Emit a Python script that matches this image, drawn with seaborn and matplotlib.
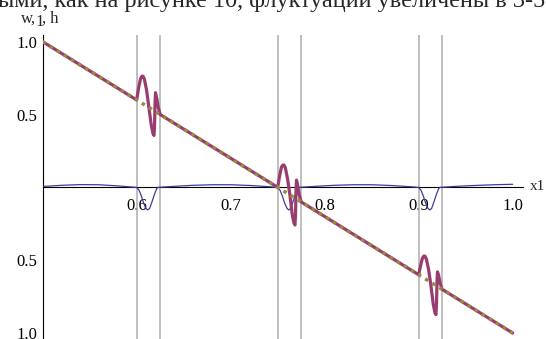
import numpy as np
import pandas as pd
import matplotlib
matplotlib.use("Agg")
import matplotlib.pyplot as plt
import seaborn as sns
from matplotlib.ticker import FixedLocator

# ---------------- data ----------------
# straight reference line (dotted olive)
line_x = [0.5, 1.0]
line_y = [1.0, -1.0]

# magenta curve: straight line with three fluctuation bursts
mag_x = [0.5,
         0.6, 0.602, 0.604, 0.6055, 0.60675, 0.60825, 0.6105, 0.613, 0.6155,
         0.61725, 0.618375, 0.619, 0.6195, 0.62, 0.62125, 0.623, 0.625,
         0.75, 0.752, 0.754, 0.7555, 0.75675, 0.75825, 0.7605, 0.763, 0.7655,
         0.76725, 0.768375, 0.769, 0.7695, 0.77, 0.77125, 0.773, 0.775,
         0.9, 0.902, 0.904, 0.9055, 0.90675, 0.90825, 0.9105, 0.913, 0.9155,
         0.91725, 0.918375, 0.919, 0.9195, 0.92, 0.92125, 0.923, 0.925,
         1.0]
mag_y = [1.0,
         0.600, 0.682, 0.744, 0.763, 0.763, 0.742, 0.668, 0.548, 0.428,
         0.371, 0.3565, 0.424, 0.572, 0.650, 0.615, 0.548, 0.500,
         0.000, 0.077, 0.139, 0.153, 0.153, 0.132, 0.058, -0.052, -0.187,
         -0.244, -0.2585, -0.186, -0.028, 0.050, 0.015, -0.052, -0.100,
         -0.600, -0.538, -0.486, -0.472, -0.472, -0.493, -0.562, -0.672, -0.802,
         -0.859, -0.8735, -0.796, -0.648, -0.580, -0.605, -0.662, -0.700,
         -1.0]

# thin blue curve near zero
blue_x = [0.5, 0.52, 0.54, 0.56, 0.58, 0.6,
          0.6025, 0.605, 0.6075, 0.61, 0.61175, 0.61375, 0.61625, 0.61875, 0.62125, 0.6225,
          0.64, 0.66, 0.68, 0.70, 0.72, 0.74, 0.75,
          0.7525, 0.755, 0.7575, 0.76, 0.76175, 0.76375, 0.76625, 0.76875, 0.77125, 0.7725,
          0.79, 0.81, 0.83, 0.85, 0.87, 0.89, 0.9,
          0.9025, 0.905, 0.9075, 0.91, 0.91175, 0.91375, 0.91625, 0.91875, 0.92125, 0.9225,
          0.94, 0.96, 0.98, 1.0]
blue_y = [0.006, 0.014, 0.019, 0.018, 0.010, 0.0,
          -0.02, -0.06, -0.11, -0.145, -0.155, -0.145, -0.10, -0.05, -0.01, 0.0,
          0.007, 0.014, 0.018, 0.018, 0.013, 0.005, 0.0,
          -0.02, -0.06, -0.11, -0.145, -0.155, -0.145, -0.10, -0.05, -0.01, 0.0,
          0.007, 0.014, 0.018, 0.018, 0.013, 0.005, 0.0,
          -0.02, -0.06, -0.11, -0.145, -0.155, -0.145, -0.10, -0.05, -0.01, 0.0,
          0.007, 0.013, 0.018, 0.021]

# vertical marker lines
vlines_x = [0.6, 0.625, 0.75, 0.775, 0.9, 0.925]

xtick_vals = [0.6, 0.7, 0.8, 0.9, 1.0]
xtick_labels = ["0.6", "0.7", "0.8", "0.9", "1.0"]
ytick_vals = [-1.0, -0.5, 0.5, 1.0]
ytick_labels = ["1.0", "0.5", "0.5", "1.0"]

top_text = "ыми, как на рисунке 10, флуктуации увеличены в 3-5"

# ---------------- style ----------------
sns.set_style("white")
plt.rcParams["font.family"] = ["Liberation Serif", "DejaVu Serif"]

BLUE = "#3d3d99"
MAG = "#993d71"
OLIVE = "#998b3d"
GREY = "#b4b4b4"

fig = plt.figure(figsize=(5.46, 3.39), dpi=100)
W, H = 546.0, 339.0
ax = fig.add_axes([42.7 / W, 0.0, (523 - 42.7) / W, (339 - 35) / H])
ax.set_xlim(0.5, 1.011)
ax.set_ylim(-1.041, 1.046)

for vx in vlines_x:
    ax.axvline(vx, color=GREY, lw=1.2, zorder=1)

df_blue = pd.DataFrame({"x": blue_x, "y": blue_y})
df_mag = pd.DataFrame({"x": mag_x, "y": mag_y})
df_line = pd.DataFrame({"x": line_x, "y": line_y})

sns.lineplot(data=df_blue, x="x", y="y", sort=False, estimator=None,
             color=BLUE, lw=0.9, ax=ax, zorder=3)
sns.lineplot(data=df_mag, x="x", y="y", sort=False, estimator=None,
             color=MAG, lw=2.3, ax=ax, zorder=4)
sns.lineplot(data=df_line, x="x", y="y", sort=False, estimator=None,
             color=OLIVE, lw=2.5, ax=ax, zorder=5)
ax.lines[-1].set_linestyle((0, (1.0, 1.4)))

# axes in Mathematica style
for s in ["top", "right"]:
    ax.spines[s].set_visible(False)
ax.spines["bottom"].set_position(("data", 0))
ax.spines["left"].set_position(("data", 0.5))
for s in ["bottom", "left"]:
    ax.spines[s].set_linewidth(0.8)
    ax.spines[s].set_color("black")
    ax.spines[s].set_zorder(2)

ax.xaxis.set_major_locator(FixedLocator(xtick_vals))
ax.set_xticklabels(xtick_labels)
ax.xaxis.set_minor_locator(FixedLocator([0.52, 0.54, 0.56, 0.58, 0.62, 0.64, 0.66, 0.68,
                                         0.72, 0.74, 0.76, 0.78, 0.82, 0.84, 0.86, 0.88,
                                         0.92, 0.94, 0.96, 0.98]))
ax.yaxis.set_major_locator(FixedLocator(ytick_vals))
ax.set_yticklabels(ytick_labels)
ax.yaxis.set_minor_locator(FixedLocator([-0.9, -0.8, -0.7, -0.6, -0.4, -0.3, -0.2, -0.1,
                                         0.1, 0.2, 0.3, 0.4, 0.6, 0.7, 0.8, 0.9]))
ax.tick_params(which="major", direction="in", length=4, width=0.7, labelsize=12,
               colors="black", pad=4)
ax.tick_params(which="minor", direction="in", length=2.2, width=0.6, colors="black")
ax.tick_params(axis="x", which="major", pad=8)
ax.set_xlabel("")
ax.set_ylabel("")

# axis labels
fig.text(530 / W, 1 - 186 / H, "x1", fontsize=11, ha="left", va="center")
fig.text(21 / W, 1 - 23 / H, "w,", fontsize=12, ha="left", va="baseline")
fig.text(35 / W, 1 - 26 / H, "1", fontsize=12, ha="left", va="baseline")
fig.text(42 / W, 1 - 23 / H, ", h", fontsize=12, ha="left", va="baseline")

# clipped page text at the top
fig.text(-2 / W, 1 - 7 / H, top_text, fontsize=17.5, ha="left", va="baseline")

fig.savefig("out.png", dpi=100)
